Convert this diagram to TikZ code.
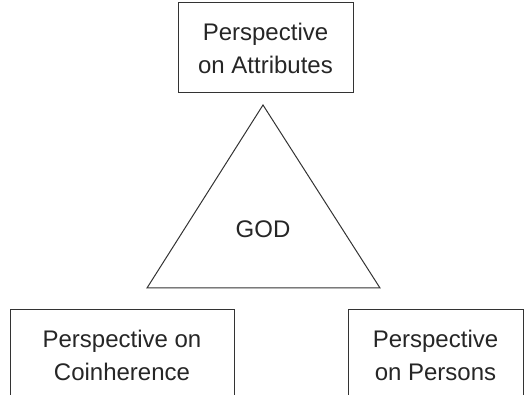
\documentclass[tikz,border=0pt]{standalone}
\usepackage{fontspec}
\setmainfont{Liberation Sans}
\begin{document}
\begin{tikzpicture}[x=1pt,y=-1pt,
  box/.style={draw=black!80,line width=1pt,inner sep=0pt,align=center,font=\fontsize{24}{33}\selectfont,text=black!85},
  label/.style={inner sep=0pt,align=center,font=\fontsize{24}{33}\selectfont,text=black!85},
  tri/.style={draw=black!80,line width=1pt,line join=miter}]
\useasboundingbox (0,0) rectangle (528,395);
\node[box,minimum width=175,minimum height=90] (attr) at (265.5,48) {Perspective\\on Attributes};
\node[box,minimum width=224,minimum height=110,anchor=north west] (coin) at (10,309) {};
\node[box,minimum width=175,minimum height=110,anchor=north west] (pers) at (348,309) {};
\node[label] (coint) at (122,355) {Perspective on\\Coinherence};
\node[label] (perst) at (435.5,355) {Perspective\\on Persons};
\coordinate (apex) at (263,105);
\coordinate (bl) at (147,288);
\coordinate (br) at (380,288);
\draw[tri] (apex) -- (bl) -- (br) -- cycle;
\node[label] (god) at (263,229) {GOD};
\end{tikzpicture}
\end{document}
